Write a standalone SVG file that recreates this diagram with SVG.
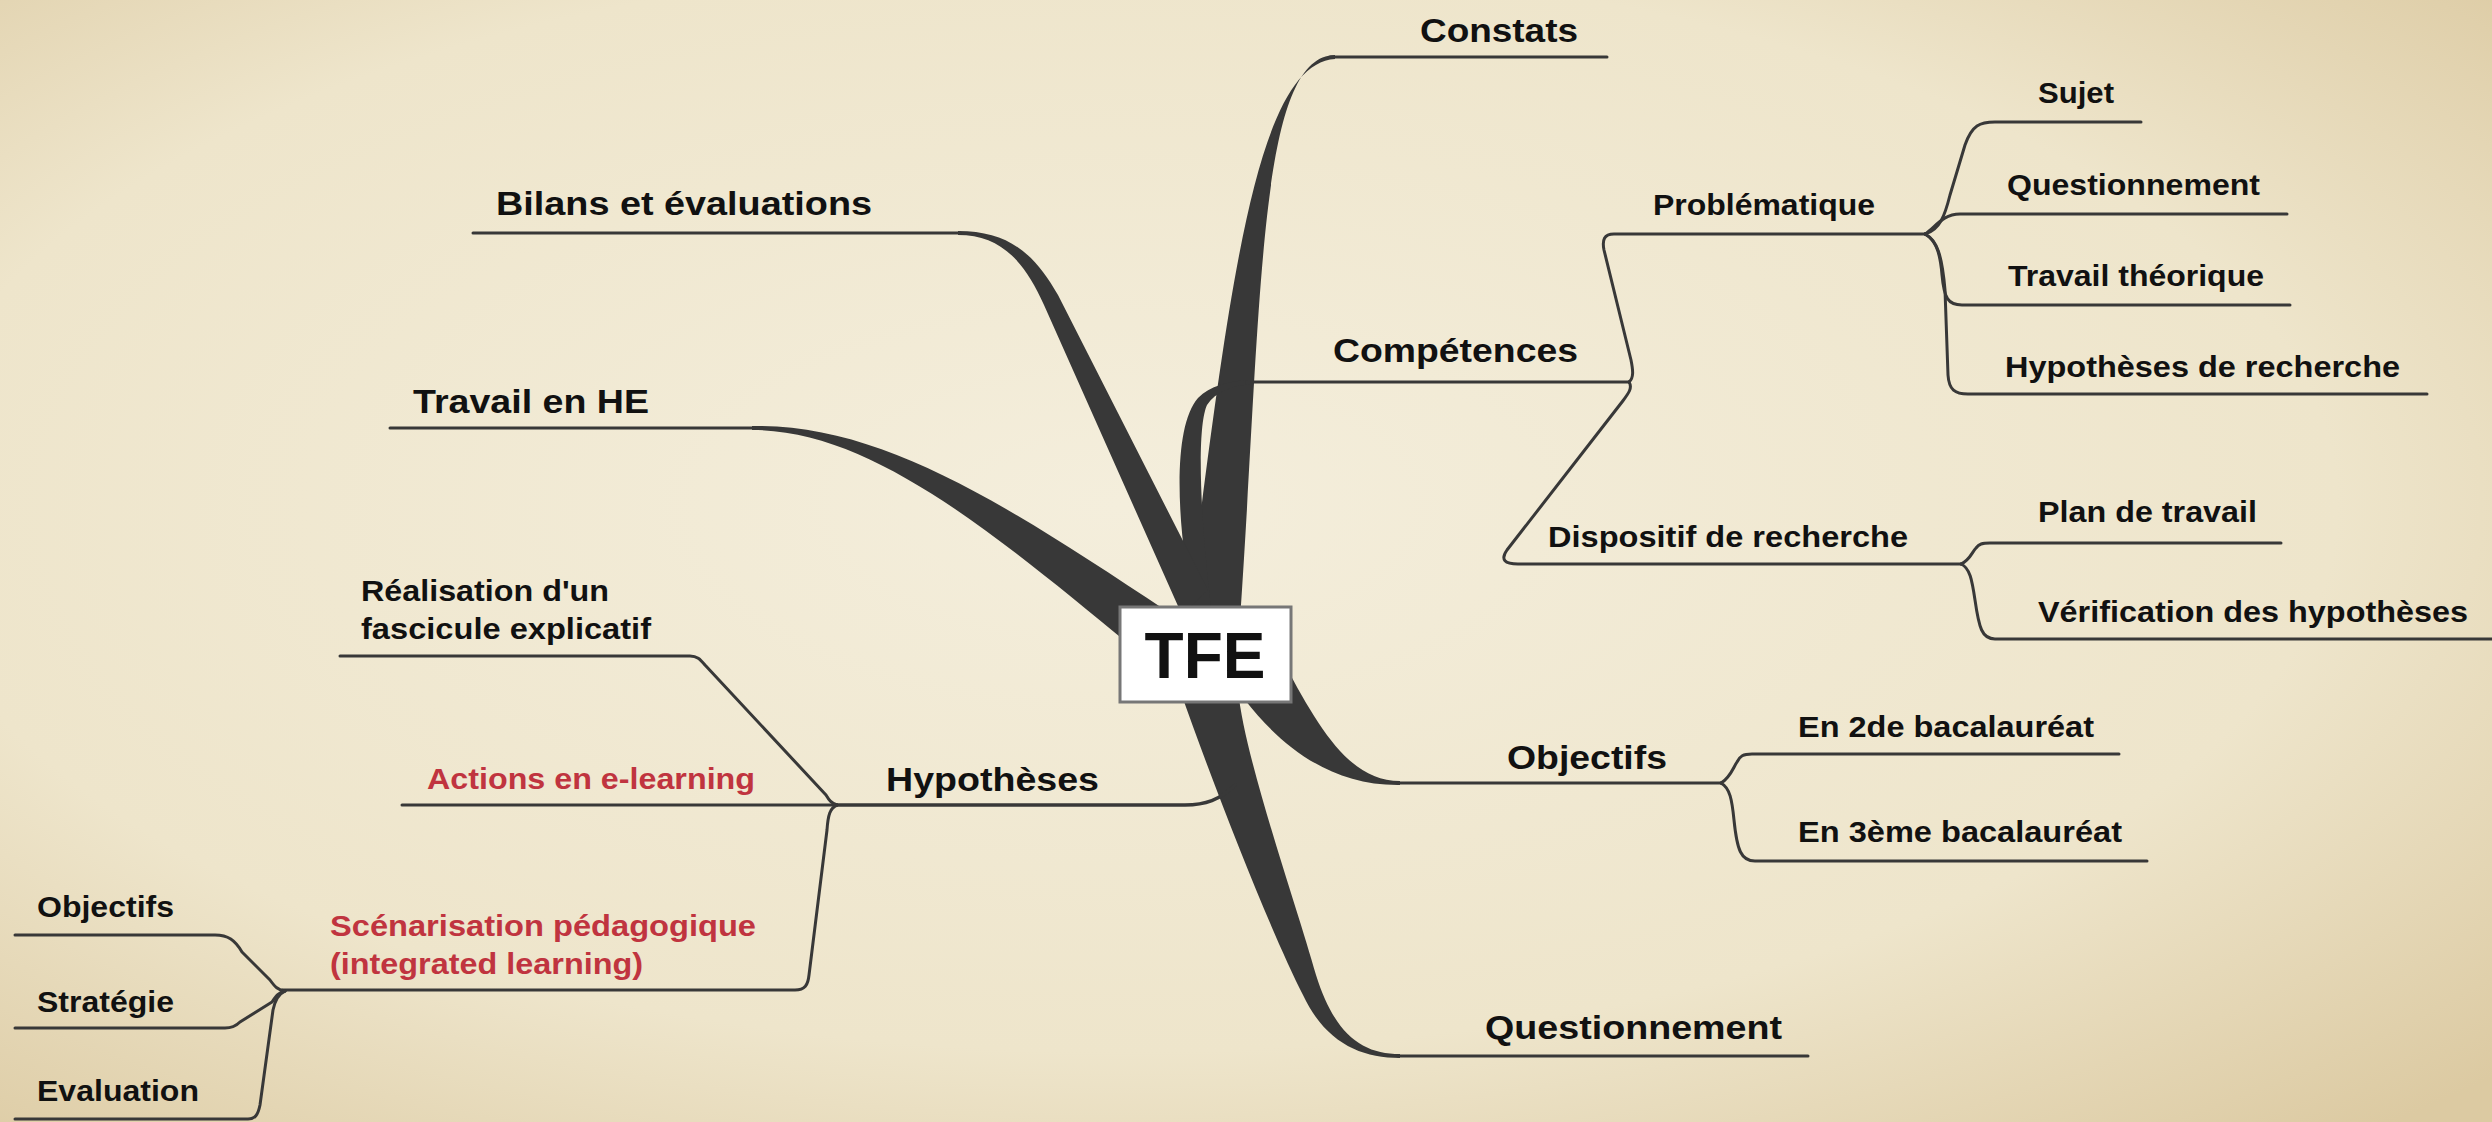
<svg xmlns="http://www.w3.org/2000/svg" width="2492" height="1122" viewBox="0 0 2492 1122">
<defs>
<radialGradient id="bg" cx="0.45" cy="0.45" r="0.75">
<stop offset="0" stop-color="#f4eedc"/>
<stop offset="0.65" stop-color="#eee5cb"/>
<stop offset="1" stop-color="#dccaa2"/>
</radialGradient>
<style>
.lbl{font-family:"Liberation Sans",Arial,Helvetica,sans-serif;font-weight:bold;fill:#111}
.main{font-size:33px}
.sub{font-size:29px}
.red{fill:#c0343f}
.thin{fill:none;stroke:#383838;stroke-width:3;stroke-linecap:round;stroke-linejoin:round}
.thick{fill:#383838}
</style>
</defs>
<rect width="2492" height="1122" fill="url(#bg)"/>
<g id="connectors">
<path class="thick" d="M 1187,620 C 1228,300 1254,64 1335,59 L 1335,55 C 1258,56 1262,300 1240,620 Z"/>
<path class="thick" d="M 1195,615 C 1178,540 1170,430 1198,398 C 1210,386 1228,381 1250,380 L 1250,384 C 1232,386 1215,392 1207,405 C 1198,425 1198,500 1212,615 Z"/>
<path class="thick" d="M 958,231 C 1010,231 1035,255 1058,295 L 1208,590 L 1182,615 L 1044,305 C 1024,260 1000,235 958,235 Z"/>
<path class="thick" d="M 752,426 C 880,424 1000,500 1168,612 L 1130,645 C 990,530 870,430 752,430 Z"/>
<path class="thick" d="M 1285,665 C 1320,730 1350,781 1400,781 L 1400,785 C 1330,786 1280,745 1245,700 Z"/>
<path class="thick" d="M 1238,690 C 1245,760 1295,900 1316,975 C 1335,1035 1362,1054 1400,1054 L 1400,1058 C 1360,1058 1325,1042 1303,995 C 1270,930 1215,790 1180,690 Z"/>
<path class="thin" d="M 1330,57 L 1607,57"/>
<path class="thin" d="M 1247,382 L 1629,382"/>
<path class="thin" d="M 1398,783 L 1721,783"/>
<path class="thin" d="M 1398,1056 L 1808,1056"/>
<path class="thin" d="M 473,233 L 960,233"/>
<path class="thin" d="M 390,428 L 754,428"/>
<path class="thin" style="stroke-width:3.5" d="M 837,805 L 1185,805 C 1205,805 1220,800 1235,785"/>
<path class="thin" d="M 1629,382 C 1634,378 1633,370 1631,360 L 1604,250 C 1602,240 1604,234 1614,234 L 1925,234"/>
<path class="thin" d="M 1629,382 C 1633,388 1628,394 1622,402 L 1507,550 C 1500,560 1505,564 1518,564 L 1961,564"/>
<path class="thin" d="M 1925,234 C 1940,230 1945,215 1950,195 L 1965,145 C 1972,125 1980,122 1995,122 L 2141,122"/>
<path class="thin" d="M 1925,234 C 1935,228 1942,214 1960,214 L 2287,214"/>
<path class="thin" d="M 1925,234 C 1935,240 1940,250 1942,275 C 1944,298 1948,305 1962,305 L 2290,305"/>
<path class="thin" d="M 1925,234 C 1937,240 1942,255 1945,290 L 1948,375 C 1949,390 1955,394 1968,394 L 2427,394"/>
<path class="thin" d="M 1961,564 C 1970,560 1972,552 1976,548 C 1979,544 1982,543 1990,543 L 2281,543"/>
<path class="thin" d="M 1961,564 C 1970,568 1972,580 1975,600 C 1979,628 1982,639 1995,639 L 2492,639"/>
<path class="thin" d="M 1721,783 C 1730,778 1733,768 1737,762 C 1740,756 1743,754 1752,754 L 2119,754"/>
<path class="thin" d="M 1721,783 C 1730,788 1732,800 1734,820 C 1737,850 1741,861 1755,861 L 2147,861"/>
<path class="thin" d="M 837,805 C 831,803 829,800 826,795 L 705,665 C 700,659 697,656 690,656 L 340,656"/>
<path class="thin" d="M 837,805 L 402,805"/>
<path class="thin" d="M 837,805 C 830,808 828,815 827,830 L 809,975 C 808,985 805,990 795,990 L 282,990"/>
<path class="thin" d="M 15,935 L 215,935 C 228,935 235,940 242,952 L 270,980 C 275,987 278,990 285,991"/>
<path class="thin" d="M 285,991 C 279,992 276,996 272,1002 L 240,1022 C 236,1026 232,1028 225,1028 L 15,1028"/>
<path class="thin" d="M 285,991 C 278,994 275,1000 273,1010 L 260,1105 C 258,1115 255,1119 248,1119 L 15,1119"/>
</g>
<g id="node-tfe">
<rect x="1120" y="607" width="171" height="95" fill="#ffffff" stroke="#777777" stroke-width="3"/>
<text class="lbl" x="1205" y="678" font-size="64" text-anchor="middle">TFE</text>
</g>
<g id="node-constats"><text class="lbl main" x="1420" y="42" textLength="158" lengthAdjust="spacingAndGlyphs">Constats</text></g>
<g id="node-competences"><text class="lbl main" x="1333" y="362" textLength="245" lengthAdjust="spacingAndGlyphs">Compétences</text></g>
<g id="node-objectifs"><text class="lbl main" x="1507" y="769" textLength="160" lengthAdjust="spacingAndGlyphs">Objectifs</text></g>
<g id="node-questionnement"><text class="lbl main" x="1485" y="1039" textLength="297" lengthAdjust="spacingAndGlyphs">Questionnement</text></g>
<g id="node-bilans"><text class="lbl main" x="496" y="215" textLength="376" lengthAdjust="spacingAndGlyphs">Bilans et évaluations</text></g>
<g id="node-travail-he"><text class="lbl main" x="413" y="413" textLength="236" lengthAdjust="spacingAndGlyphs">Travail en HE</text></g>
<g id="node-hypotheses"><text class="lbl main" x="886" y="791" textLength="213" lengthAdjust="spacingAndGlyphs">Hypothèses</text></g>
<g id="node-problematique"><text class="lbl sub" x="1653" y="215" textLength="222" lengthAdjust="spacingAndGlyphs">Problématique</text></g>
<g id="node-sujet"><text class="lbl sub" x="2038" y="103" textLength="76" lengthAdjust="spacingAndGlyphs">Sujet</text></g>
<g id="node-questionnement-sub"><text class="lbl sub" x="2007" y="195" textLength="253" lengthAdjust="spacingAndGlyphs">Questionnement</text></g>
<g id="node-travail-theorique"><text class="lbl sub" x="2008" y="286" textLength="256" lengthAdjust="spacingAndGlyphs">Travail théorique</text></g>
<g id="node-hyp-recherche"><text class="lbl sub" x="2005" y="377" textLength="395" lengthAdjust="spacingAndGlyphs">Hypothèses de recherche</text></g>
<g id="node-dispositif"><text class="lbl sub" x="1548" y="547" textLength="360" lengthAdjust="spacingAndGlyphs">Dispositif de recherche</text></g>
<g id="node-plan"><text class="lbl sub" x="2038" y="522" textLength="219" lengthAdjust="spacingAndGlyphs">Plan de travail</text></g>
<g id="node-verification"><text class="lbl sub" x="2038" y="622" textLength="430" lengthAdjust="spacingAndGlyphs">Vérification des hypothèses</text></g>
<g id="node-2de"><text class="lbl sub" x="1798" y="737" textLength="296" lengthAdjust="spacingAndGlyphs">En 2de bacalauréat</text></g>
<g id="node-3eme"><text class="lbl sub" x="1798" y="842" textLength="324" lengthAdjust="spacingAndGlyphs">En 3ème bacalauréat</text></g>
<g id="node-realisation"><text class="lbl sub" x="361" y="601" textLength="248" lengthAdjust="spacingAndGlyphs">Réalisation d'un</text><text class="lbl sub" x="361" y="639" textLength="290" lengthAdjust="spacingAndGlyphs">fascicule explicatif</text></g>
<g id="node-actions"><text class="lbl sub red" x="427" y="789" textLength="328" lengthAdjust="spacingAndGlyphs">Actions en e-learning</text></g>
<g id="node-scenarisation"><text class="lbl sub red" x="330" y="936" textLength="426" lengthAdjust="spacingAndGlyphs">Scénarisation pédagogique</text><text class="lbl sub red" x="330" y="974" textLength="313" lengthAdjust="spacingAndGlyphs">(integrated learning)</text></g>
<g id="node-objectifs-left"><text class="lbl sub" x="37" y="917" textLength="137" lengthAdjust="spacingAndGlyphs">Objectifs</text></g>
<g id="node-strategie"><text class="lbl sub" x="37" y="1012" textLength="137" lengthAdjust="spacingAndGlyphs">Stratégie</text></g>
<g id="node-evaluation"><text class="lbl sub" x="37" y="1101" textLength="162" lengthAdjust="spacingAndGlyphs">Evaluation</text></g>
</svg>
